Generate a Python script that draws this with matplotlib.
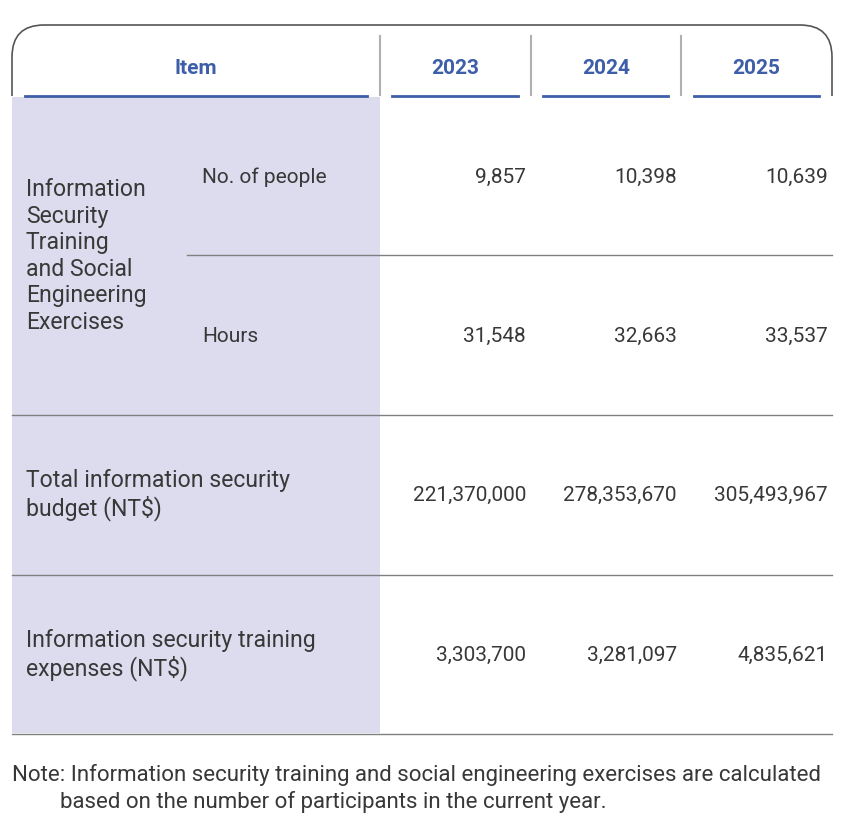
import matplotlib.pyplot as plt
from matplotlib.patches import Rectangle, PathPatch
from matplotlib.path import Path

plt.rcParams['font.family'] = ['Roboto', 'DejaVu Sans']

years = ['2023', '2024', '2025']
row_labels = ['Information\nSecurity\nTraining\nand Social\nEngineering\nExercises',
              'Total information security\nbudget (NT$)',
              'Information security training\nexpenses (NT$)']
sub_labels = ['No. of people', 'Hours']
people = ['9,857', '10,398', '10,639']
hours = ['31,548', '32,663', '33,537']
budget = ['221,370,000', '278,353,670', '305,493,967']
training = ['3,303,700', '3,281,097', '4,835,621']
note1 = 'Note: Information security training and social engineering exercises are calculated'
note2 = 'based on the number of participants in the current year.'

blue = '#3d5ea8'
text_c = '#383838'
line_c = '#808080'
shade = '#dcdcee'

fig = plt.figure(figsize=(8.5, 8.4), dpi=100)
ax = fig.add_axes([0, 0, 1, 1])
ax.set_xlim(0, 850)
ax.set_ylim(840, 0)
ax.axis('off')

# header frame with rounded corners
r = 32
verts = [(12, 96), (12, 25 + r), (12, 25), (12 + r, 25), (832 - r, 25),
         (832, 25), (832, 25 + r), (832, 96)]
codes = [Path.MOVETO, Path.LINETO, Path.CURVE3, Path.CURVE3, Path.LINETO,
         Path.CURVE3, Path.CURVE3, Path.LINETO]
ax.add_patch(PathPatch(Path(verts, codes), fill=False, ec='#555555', lw=1.2))

# shaded item column
ax.add_patch(Rectangle((12, 97), 368, 636, fc=shade, ec='none'))

# header separators
for x in [380, 531, 681]:
    ax.plot([x, x], [36, 95], color='#b0b0b0', lw=1.5)

# header text and underlines
ax.text(196, 68, 'Item', color=blue, fontsize=15, fontweight='bold', ha='center', va='center')
ax.plot([25, 367], [96, 96], color=blue, lw=2)
col_centers = [455, 606, 756]
col_spans = [(392, 518), (543, 668), (694, 819)]
for yr, cx, (a, b) in zip(years, col_centers, col_spans):
    ax.text(cx, 68, yr, color=blue, fontsize=15, fontweight='bold', ha='center', va='center')
    ax.plot([a, b], [96, 96], color=blue, lw=2)

# row lines
ax.plot([187, 832], [255, 255], color=line_c, lw=1)
for y in [415, 575, 734]:
    ax.plot([12, 832], [y, y], color=line_c, lw=1)

# row labels
lab = dict(color=text_c, fontsize=16.6, ha='left', va='center', linespacing=1.2)
ax.text(26, 256, row_labels[0], **lab)
ax.text(26, 495, row_labels[1], **lab)
ax.text(26, 655, row_labels[2], **lab)
sub = dict(color=text_c, fontsize=15, ha='left', va='center')
ax.text(202, 177, sub_labels[0], **sub)
ax.text(202, 336, sub_labels[1], **sub)

# values
right_edges = [526, 677, 828]
for vals, y in [(people, 177), (hours, 336), (budget, 495), (training, 655)]:
    for v, x in zip(vals, right_edges):
        ax.text(x, y, v, color=text_c, fontsize=15, ha='right', va='center')

# note
ax.text(12, 775, note1, color=text_c, fontsize=16, ha='left', va='center')
ax.text(60, 802, note2, color=text_c, fontsize=16, ha='left', va='center')

fig.savefig('out.png', dpi=100)
